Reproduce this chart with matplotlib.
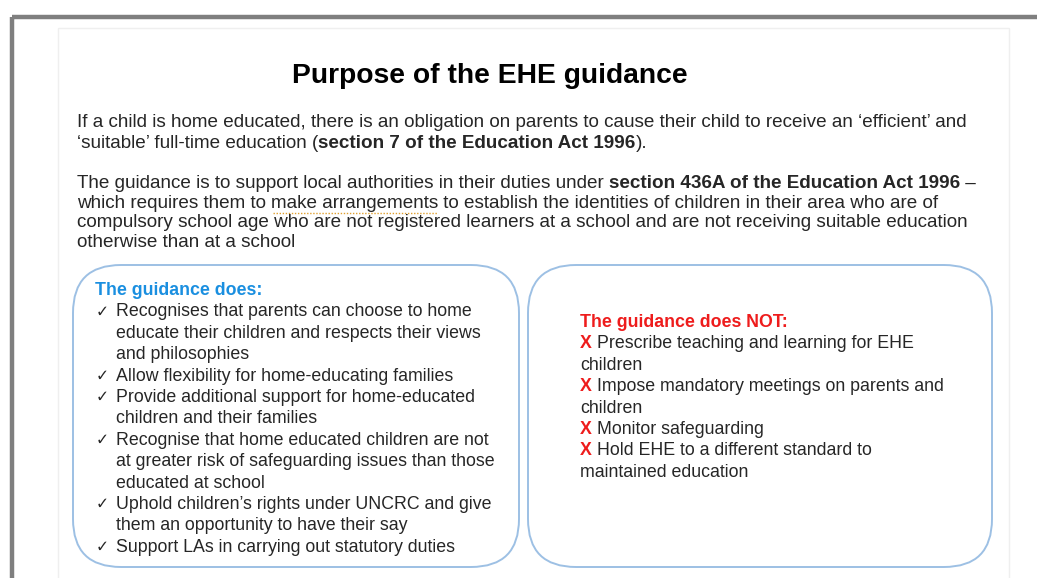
import matplotlib.pyplot as plt
from matplotlib.patches import FancyBboxPatch, Rectangle

plt.rcParams['font.family'] = ['Liberation Sans', 'DejaVu Sans']

# Slide text, kept as runs of (text, bold)
title = "Purpose of the EHE guidance"

para1 = [
    [("If a child is home educated, there is an obligation on parents to cause their child to receive an \u2018efficient\u2019 and", False)],
    [("\u2018suitable\u2019 full-time education (", False), ("section 7 of the Education Act 1996", True), (").", False)],
]
para2 = [
    [("The guidance is to support local authorities in their duties under ", False),
     ("section 436A of the Education Act 1996", True), (" \u2013", False)],
    [("which requires them to ", False), ("make arrangements", False), (" to establish the identities of children in their area who are of", False)],
    [("compulsory school age who are not registered learners at a school and are not receiving suitable education", False)],
    [("otherwise than at a school", False)],
]

does_head = "The guidance does:"
does_items = [
    ["Recognises that parents can choose to home", "educate their children and respects their views", "and philosophies"],
    ["Allow flexibility for home-educating families"],
    ["Provide additional support for home-educated", "children and their families"],
    ["Recognise that home educated children are not", "at greater risk of safeguarding issues than those", "educated at school"],
    ["Uphold children\u2019s rights under UNCRC and give", "them an opportunity to have their say"],
    ["Support LAs in carrying out statutory duties"],
]

not_head = "The guidance does NOT:"
not_items = [
    ["Prescribe teaching and learning for EHE", "children"],
    ["Impose mandatory meetings on parents and", "children"],
    ["Monitor safeguarding"],
    ["Hold EHE to a different standard to", "maintained education"],
]

W, H = 1037, 578
TXT = '#262626'
BLUE = '#1a8fe0'
RED = '#ee1c1c'
EDGE = '#9dc0e4'
FS_P = 13.6    # top paragraphs
FS_B = 12.75   # text inside the boxes

fig = plt.figure(figsize=(W / 100, H / 100), dpi=100)
ax = fig.add_axes([0, 0, 1, 1])
ax.set_xlim(0, W)
ax.set_ylim(H, 0)
ax.axis('off')
renderer = fig.canvas.get_renderer()


def width(s, bold, fs):
    # measure with guard chars so leading/trailing spaces count
    fw = 'bold' if bold else 'normal'
    t1 = ax.text(0, 0, "|" + s + "|", fontsize=fs, fontweight=fw)
    t2 = ax.text(0, 0, "||", fontsize=fs, fontweight=fw)
    w = t1.get_window_extent(renderer).width - t2.get_window_extent(renderer).width
    t1.remove()
    t2.remove()
    return w


def runs(x, y, parts, fs, color=TXT):
    spans = []
    for s, b in parts:
        ax.text(x, y, s, fontsize=fs, fontweight='bold' if b else 'normal',
                color=color, va='baseline', ha='left')
        w = width(s, b, fs)
        spans.append((x, x + w))
        x += w
    return spans


# frame and slide
ax.add_patch(Rectangle((11.5, 16.5), W, H, fill=False, ec='#7f7f7f', lw=3.2))
ax.add_patch(Rectangle((58, 28), 951, H, fill=True, fc='white', ec='#efefef', lw=1))

ax.text(490, 83, title, fontsize=20.3, fontweight='bold', color='black', ha='center', va='baseline')

y = 127
for line in para1:
    runs(77, y, line, FS_P)
    y += 21
y = 188
for line in para2:
    sp = runs(77, y, line, FS_P)
    if line[0][0].startswith("which"):
        x0, x1 = sp[1]
        ax.plot([x0 + 2, x1 - 2], [y + 5, y + 5], ls=(0, (1, 1.2)), color='#e0a030', lw=1)
    y += 19.7

# rounded boxes
for x0, x1 in [(73, 519), (528, 992)]:
    ax.add_patch(FancyBboxPatch((x0 + 48, 265 + 48), x1 - x0 - 96, 302 - 96,
                                boxstyle='round,pad=48', fc='white', ec=EDGE, lw=1.4))

step = 21.4
ax.text(95, 295, does_head, fontsize=FS_B, fontweight='bold', color=BLUE, va='baseline')
y = 295 + step
for item in does_items:
    ax.text(96, y, "\u2713", fontsize=FS_B - 1.5, color=TXT, va='baseline', family=['DejaVu Sans'])
    for ln in item:
        ax.text(116, y, ln, fontsize=FS_B, color=TXT, va='baseline')
        y += step

ax.text(580, 327, not_head, fontsize=FS_B, fontweight='bold', color=RED, va='baseline')
y = 327 + step
for item in not_items:
    for k, ln in enumerate(item):
        if k == 0:
            runs(580, y, [("X", True)], FS_B, color=RED)
            ax.text(580 + width("X ", True, FS_B), y, ln, fontsize=FS_B, color=TXT, va='baseline')
        else:
            ax.text(580, y, ln, fontsize=FS_B, color=TXT, va='baseline')
        y += step

fig.savefig('out.png', dpi=100)
